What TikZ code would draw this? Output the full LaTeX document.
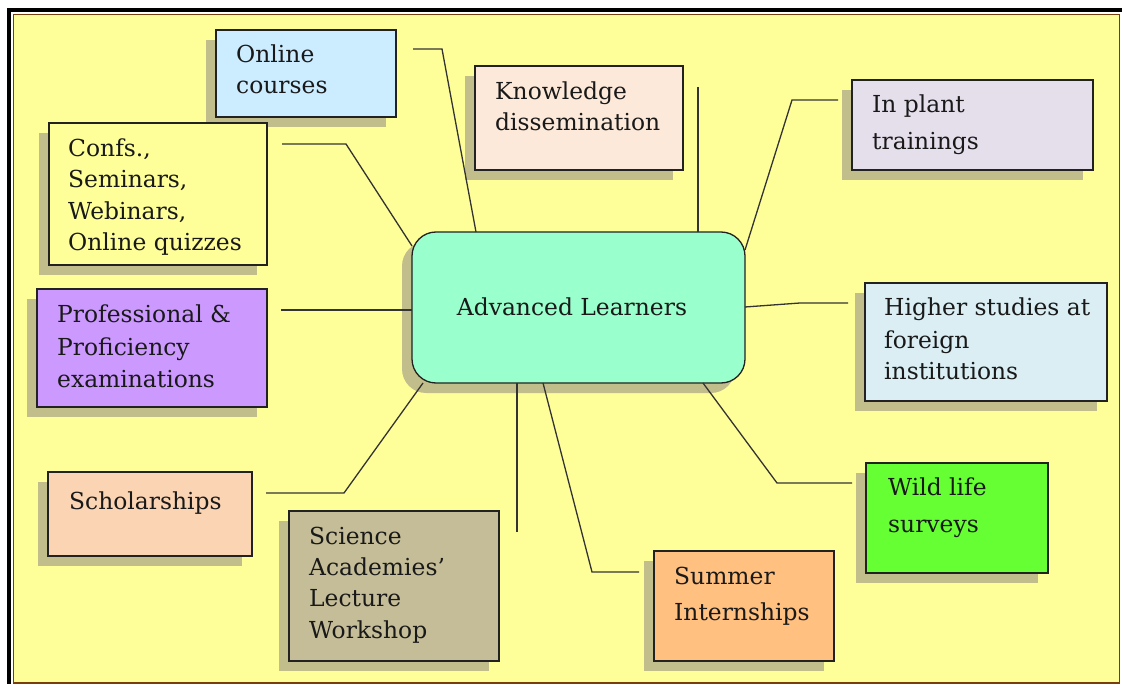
\documentclass[tikz,border=0pt]{standalone}
\usepackage{fontspec}
\setmainfont{DejaVu Serif}
\usetikzlibrary{shadows,calc}
\definecolor{bgy}{HTML}{FFFF99}
\definecolor{shad}{HTML}{C2BE8C}
\definecolor{boxline}{HTML}{222222}
\definecolor{lnc}{HTML}{333333}
\definecolor{frbrown}{HTML}{7A3E0A}
\definecolor{cOnline}{HTML}{CCECFF}
\definecolor{cKnow}{HTML}{FDE9D9}
\definecolor{cPlant}{HTML}{E5DFEC}
\definecolor{cProf}{HTML}{CC99FF}
\definecolor{cHigh}{HTML}{DAEEF3}
\definecolor{cCtr}{HTML}{99FFCC}
\definecolor{cSchol}{HTML}{FBD4B4}
\definecolor{cSci}{HTML}{C4BD97}
\definecolor{cSum}{HTML}{FFC080}
\definecolor{cWild}{HTML}{66FF33}
\begin{document}
\begin{tikzpicture}[x=1pt,y=-1pt,
  box/.style={draw=boxline, line width=1.3pt, rectangle, inner sep=0pt, outer sep=0pt, anchor=north west,
    drop shadow={shadow xshift=-10pt, shadow yshift=-10pt, fill=shad, opacity=1}},
  txt/.style={anchor=base west, inner sep=0pt, align=left, text=black!90, font=\fontsize{23.4}{31}\selectfont},
  conn/.style={draw=lnc, line width=1.3pt}]
\useasboundingbox (0,0) rectangle (1124,684);
% frame
\fill[bgy] (13,14) rectangle (1120,684);
\draw[frbrown, line width=1.6pt] (13.5,14.5) rectangle (1119.5,683);
\draw[black, line width=4pt] (9,686) -- (9,10) -- (1122,10);

% boxes
\node[box, fill=cOnline, minimum width=180pt, minimum height=87pt] (bOnline) at (216,30) {};
\node[box, fill=cKnow, minimum width=208pt, minimum height=104pt] (bKnow) at (475,66) {};
\node[box, fill=cPlant, minimum width=241pt, minimum height=90pt] (bPlant) at (852,80) {};
\node[box, fill=bgy, minimum width=218pt, minimum height=142pt] (bConfs) at (49,123) {};
\node[box, fill=cProf, minimum width=230pt, minimum height=118pt] (bProf) at (37,289) {};
\node[box, fill=cHigh, minimum width=242pt, minimum height=118pt] (bHigh) at (865,283) {};
\node[box, fill=cSchol, minimum width=204pt, minimum height=84pt] (bSchol) at (48,472) {};
\node[box, fill=cSci, minimum width=210pt, minimum height=150pt] (bSci) at (289,511) {};
\node[box, fill=cSum, minimum width=180pt, minimum height=110pt] (bSum) at (654,551) {};
\node[box, fill=cWild, minimum width=182pt, minimum height=110pt] (bWild) at (866,463) {};
\node[box, fill=cCtr, rounded corners=24pt, minimum width=333pt, minimum height=151pt] (ctr) at (412,232) {};

% texts (anchored at the baseline of the last line)
\node[txt] (tOnline) at (236,94) {Online\\courses};
\node[txt] (tKnow) at (495,131) {Knowledge\\dissemination};
\node[txt, font=\fontsize{23.4}{37}\selectfont] (tPlant) at (872,150) {In plant\\trainings};
\node[txt, font=\fontsize{23.4}{31.5}\selectfont] (tConfs) at (68,251) {Confs.,\\Seminars,\\Webinars,\\Online quizzes};
\node[txt, font=\fontsize{23.4}{32}\selectfont] (tProf) at (57,387) {Professional \&\\Proficiency\\examinations};
\node[txt, font=\fontsize{23.4}{32}\selectfont] (tHigh) at (884,380) {Higher studies at\\foreign\\institutions};
\node[txt] (tSchol) at (69,509) {Scholarships};
\node[txt, font=\fontsize{23.4}{31.3}\selectfont] (tSci) at (309,638) {Science\\Academies’\\Lecture\\Workshop};
\node[txt, font=\fontsize{23.4}{36}\selectfont] (tSum) at (674,620) {Summer\\Internships};
\node[txt, font=\fontsize{23.4}{37}\selectfont] (tWild) at (888,532) {Wild life\\surveys};
\node[txt, anchor=base] (tCtr) at (572,316) {Advanced Learners};

% connector free ends
\coordinate (eOnline) at (413,49);  \coordinate (kOnline) at (442,49);
\coordinate (eConfs) at (282,144);  \coordinate (kConfs) at (346,144);
\coordinate (eProf) at (281,310);
\coordinate (eKnow) at (698,87);
\coordinate (ePlant) at (838,100);  \coordinate (kPlant) at (792,100);
\coordinate (eHigh) at (848,303);   \coordinate (kHigh) at (800,303);
\coordinate (eSchol) at (266,493);  \coordinate (kSchol) at (344,493);
\coordinate (eSci) at (517,532);
\coordinate (eSum) at (639,572);    \coordinate (kSum) at (592,572);
\coordinate (eWild) at (852,483);   \coordinate (kWild) at (777,483);

\draw[conn] (eOnline) -- (kOnline) -- ($(ctr.north west)+(64,0)$);
\draw[conn] (eConfs) -- (kConfs) -- ($(ctr.north west)+(0,14)$);
\draw[conn] (eProf) -- (eProf -| ctr.west);
\draw[conn] (eKnow) -- (eKnow |- ctr.north);
\draw[conn] (ePlant) -- (kPlant) -- ($(ctr.north east)+(0,18)$);
\draw[conn] (eHigh) -- (kHigh) -- ($(ctr.north east)+(0,75)$);
\draw[conn] (eSchol) -- (kSchol) -- ($(ctr.south west)+(11,0)$);
\draw[conn] (eSci) -- (eSci |- ctr.south);
\draw[conn] (eSum) -- (kSum) -- ($(ctr.south west)+(131,0)$);
\draw[conn] (eWild) -- (kWild) -- ($(ctr.south west)+(291,0)$);
\end{tikzpicture}
\end{document}
